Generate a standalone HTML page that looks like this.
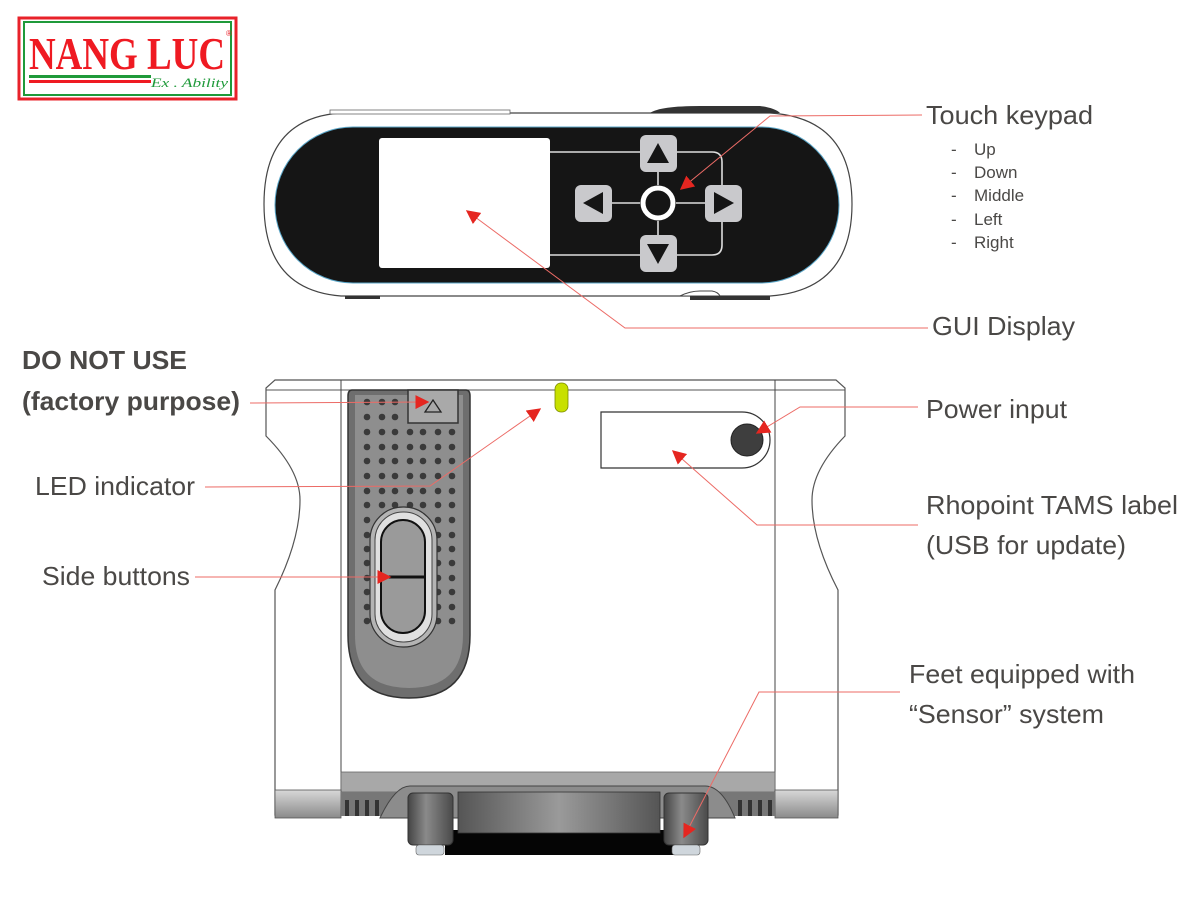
<!DOCTYPE html>
<html><head><meta charset="utf-8"><style>
html,body{margin:0;padding:0;background:#fff;}
svg{display:block;}
text{font-family:"Liberation Sans",sans-serif;fill:#4a4846;}
</style></head><body>
<svg width="1200" height="900" viewBox="0 0 1200 900" xmlns="http://www.w3.org/2000/svg">
<defs>
<linearGradient id="gv" x1="0" y1="0" x2="0" y2="1"><stop offset="0" stop-color="#d8d8d8"/><stop offset="1" stop-color="#8a8a8a"/></linearGradient>
<linearGradient id="gh" x1="0" y1="0" x2="1" y2="0"><stop offset="0" stop-color="#555"/><stop offset="0.5" stop-color="#9a9a9a"/><stop offset="1" stop-color="#555"/></linearGradient>
<linearGradient id="gp" x1="0" y1="0" x2="1" y2="0"><stop offset="0" stop-color="#444"/><stop offset="0.4" stop-color="#8a8a8a"/><stop offset="1" stop-color="#4a4a4a"/></linearGradient>
<marker id="ar" viewBox="0 0 10 10" refX="9" refY="5" markerWidth="14" markerHeight="14" markerUnits="userSpaceOnUse" orient="auto"><path d="M0,0 L10,5 L0,10 z" fill="#e52620"/></marker>
</defs>

<!-- Logo -->
<rect x="19" y="18" width="217" height="81" fill="#fff" stroke="#e8222a" stroke-width="3"/>
<rect x="24" y="22" width="207" height="73" fill="#fff" stroke="#1f9a3a" stroke-width="2"/>
<text x="29" y="69" font-weight="bold" font-size="46" textLength="196" lengthAdjust="spacingAndGlyphs" style="fill:#ef1a22;font-family:'Liberation Serif',serif;font-weight:bold">NANG LUC</text>
<text x="226" y="36" font-size="8" style="fill:#e8222a">®</text>
<rect x="29" y="75" width="122" height="3" fill="#1f9a3a"/>
<rect x="29" y="80" width="122" height="3" fill="#ef1a22"/>
<text x="151" y="87" font-size="13" textLength="77" lengthAdjust="spacingAndGlyphs" style="fill:#1f9a3a;font-family:'Liberation Serif',serif;font-style:italic">Ex . Ability</text>

<!-- Top device -->
<path d="M341,113 L770,113 Q852,118 852,204 Q852,290 770,296 L341,296 Q264,290 264,204 Q264,118 341,113 Z" fill="#fff" stroke="#444" stroke-width="1.2"/>
<rect x="330" y="110" width="180" height="4" fill="#fff" stroke="#666" stroke-width="0.8"/>
<path d="M650,113 Q660,106 700,106 L760,106 Q775,108 780,113 Z" fill="#333"/>
<path d="M680,296 Q690,291 700,291 L712,291 Q718,292 720,296 Z" fill="#fff" stroke="#444"/>
<path d="M345,296 L380,296 L380,299 L345,299Z M690,296 L770,296 L770,300 L690,300Z" fill="#333"/>
<rect x="275" y="127" width="564" height="156" rx="78" fill="#151515" stroke="#5aa6c8" stroke-width="1"/>
<rect x="379" y="138" width="171" height="130" rx="3" fill="#fff"/>
<g stroke="#ddd" stroke-width="1.6" fill="none">
<path d="M550,152 L641,152 M676,152 L712,152 Q722,152 722,162 L722,186 M722,222 L722,245 Q722,255 712,255 L676,255 M641,255 L550,255"/>
<path d="M612,203 L640,203 M676,203 L705,203 M658,172 L658,185 M658,221 L658,236"/>
</g>
<g fill="#c9c9cc">
<rect x="640" y="135" width="37" height="37" rx="6"/>
<rect x="640" y="235" width="37" height="37" rx="6"/>
<rect x="575" y="185" width="37" height="37" rx="6"/>
<rect x="705" y="185" width="37" height="37" rx="6"/>
</g>
<g fill="#151515">
<path d="M658,143 L669,163 L647,163Z"/>
<path d="M658,264 L669,244 L647,244Z"/>
<path d="M583,203 L603,192 L603,214Z"/>
<path d="M734,203 L714,192 L714,214Z"/>
</g>
<circle cx="658" cy="203" r="15" fill="#151515" stroke="#fff" stroke-width="5"/>

<!-- Bottom device body -->
<path d="M275,380 L836,380 L845,388 L845,436 Q812,470 812,500 Q812,540 838,590 L838,815 L275,815 L275,590 Q300,540 300,500 Q300,470 266,436 L266,388 Z" fill="#fff" stroke="#555" stroke-width="1.2"/>
<line x1="266" y1="390" x2="845" y2="390" stroke="#555" stroke-width="1"/>
<line x1="341" y1="380" x2="341" y2="815" stroke="#444" stroke-width="1"/>
<line x1="775" y1="380" x2="775" y2="815" stroke="#444" stroke-width="1"/>
<!-- base -->
<rect x="341" y="772" width="434" height="20" fill="#a8a8a8" stroke="#666" stroke-width="0.8"/>
<rect x="275" y="790" width="66" height="28" fill="url(#gv)" stroke="#555" stroke-width="0.8"/>
<rect x="775" y="790" width="63" height="28" fill="url(#gv)" stroke="#555" stroke-width="0.8"/>
<rect x="341" y="792" width="55" height="24" fill="#777"/>
<rect x="720" y="792" width="55" height="24" fill="#777"/>
<g fill="#333"><rect x="345" y="800" width="4" height="16"/><rect x="355" y="800" width="4" height="16"/><rect x="365" y="800" width="4" height="16"/><rect x="375" y="800" width="4" height="16"/>
<rect x="738" y="800" width="4" height="16"/><rect x="748" y="800" width="4" height="16"/><rect x="758" y="800" width="4" height="16"/><rect x="768" y="800" width="4" height="16"/></g>
<path d="M380,818 Q395,786 410,786 L705,786 Q722,786 735,818 Z" fill="#8c8c8c" stroke="#444"/>
<rect x="445" y="830" width="240" height="25" fill="#050505"/>
<rect x="458" y="792" width="202" height="41" fill="url(#gh)" stroke="#333" stroke-width="0.8"/>
<rect x="408" y="793" width="45" height="52" rx="5" fill="url(#gp)" stroke="#333"/>
<rect x="664" y="793" width="44" height="52" rx="5" fill="url(#gp)" stroke="#333"/>
<rect x="416" y="845" width="28" height="10" rx="3" fill="#cfd6dc" stroke="#666" stroke-width="0.6"/>
<rect x="672" y="845" width="28" height="10" rx="3" fill="#cfd6dc" stroke="#666" stroke-width="0.6"/>

<!-- grip -->
<path d="M352,390 L466,390 Q470,390 470,396 L470,635 Q470,698 409,698 Q348,698 348,635 L348,396 Q348,390 352,390Z" fill="#6e6e6e" stroke="#333" stroke-width="1.5"/>
<path d="M355,395 L463,395 L463,635 Q463,688 409,688 Q355,688 355,635Z" fill="#8e8e8e"/>
<rect x="408" y="390" width="50" height="33" fill="#a9a9a9" stroke="#333" stroke-width="1.5"/>
<path d="M433,400 L441,412 L425,412Z" fill="none" stroke="#222" stroke-width="1.3"/>
<g fill="#3a3a3a">
<circle cx="367" cy="402" r="3.3"/><circle cx="382" cy="402" r="3.3"/><circle cx="395" cy="402" r="3.3"/>
<circle cx="367" cy="417" r="3.3"/><circle cx="382" cy="417" r="3.3"/><circle cx="395" cy="417" r="3.3"/>
<g id="r1"><circle cx="367" cy="432" r="3.3"/><circle cx="382" cy="432" r="3.3"/><circle cx="395" cy="432" r="3.3"/><circle cx="410" cy="432" r="3.3"/><circle cx="423" cy="432" r="3.3"/><circle cx="438" cy="432" r="3.3"/><circle cx="452" cy="432" r="3.3"/></g>
<use href="#r1" y="15"/><use href="#r1" y="29"/><use href="#r1" y="44"/><use href="#r1" y="59"/><use href="#r1" y="73"/>
<circle cx="438" cy="520" r="3.3"/><circle cx="452" cy="520" r="3.3"/>
<g id="c2"><circle cx="438" cy="535" r="3.3"/><circle cx="452" cy="535" r="3.3"/><circle cx="367" cy="535" r="3.3"/></g>
<use href="#c2" y="14"/><use href="#c2" y="28"/><use href="#c2" y="43"/><use href="#c2" y="57"/><use href="#c2" y="72"/><use href="#c2" y="86"/>
<circle cx="367" cy="520" r="3.3"/>
</g>
<rect x="370" y="507" width="67" height="140" rx="33" fill="#b4b4b4" stroke="#333" stroke-width="1.2"/>
<rect x="375" y="512" width="57" height="130" rx="28" fill="#e0e0e0" stroke="#444" stroke-width="1"/>
<rect x="381" y="520" width="44" height="113" rx="22" fill="#9a9a9a" stroke="#111" stroke-width="2"/>
<line x1="382" y1="577" x2="424" y2="577" stroke="#111" stroke-width="3"/>

<!-- LED & label -->
<rect x="555" y="383" width="13" height="29" rx="6" fill="#c8e000" stroke="#7a8a00" stroke-width="0.8"/>
<path d="M601,412 L742,412 A28,28 0 0 1 742,468 L601,468 Z" fill="#fff" stroke="#333" stroke-width="1.2"/>
<circle cx="747" cy="440" r="16" fill="#3e3e3e" stroke="#222"/>

<!-- connectors -->
<g stroke="#ec6b66" stroke-width="1" fill="none">
<polyline points="922,115 770,116 681,189" marker-end="url(#ar)"/>
<polyline points="928,328 625,328 467,211" marker-end="url(#ar)"/>
<polyline points="250,403 428,402" marker-end="url(#ar)"/>
<polyline points="205,487 430,486 540,409" marker-end="url(#ar)"/>
<polyline points="195,577 390,577" marker-end="url(#ar)"/>
<polyline points="918,407 800,407 757,433" marker-end="url(#ar)"/>
<polyline points="918,525 757,525 673,451" marker-end="url(#ar)"/>
<polyline points="900,692 759,692 684,837" marker-end="url(#ar)"/>
</g>

<!-- labels -->
<text x="926" y="124" font-size="26" textLength="167" lengthAdjust="spacingAndGlyphs">Touch keypad</text>
<g font-size="17">
<text x="951" y="155">-</text><text x="974" y="155">Up</text>
<text x="951" y="178">-</text><text x="974" y="178">Down</text>
<text x="951" y="201">-</text><text x="974" y="201">Middle</text>
<text x="951" y="225">-</text><text x="974" y="225">Left</text>
<text x="951" y="248">-</text><text x="974" y="248">Right</text>
</g>
<text x="932" y="335" font-size="26" textLength="143" lengthAdjust="spacingAndGlyphs">GUI Display</text>
<text x="22" y="369" font-size="26" font-weight="bold" textLength="165" lengthAdjust="spacingAndGlyphs">DO NOT USE</text>
<text x="22" y="410" font-size="26" font-weight="bold" textLength="218" lengthAdjust="spacingAndGlyphs">(factory purpose)</text>
<text x="35" y="495" font-size="26" textLength="160" lengthAdjust="spacingAndGlyphs">LED indicator</text>
<text x="42" y="585" font-size="26" textLength="148" lengthAdjust="spacingAndGlyphs">Side buttons</text>
<text x="926" y="418" font-size="26" textLength="141" lengthAdjust="spacingAndGlyphs">Power input</text>
<text x="926" y="514" font-size="26" textLength="252" lengthAdjust="spacingAndGlyphs">Rhopoint TAMS label</text>
<text x="926" y="554" font-size="26" textLength="200" lengthAdjust="spacingAndGlyphs">(USB for update)</text>
<text x="909" y="683" font-size="26" textLength="226" lengthAdjust="spacingAndGlyphs">Feet equipped with</text>
<text x="909" y="723" font-size="26" textLength="195" lengthAdjust="spacingAndGlyphs">“Sensor” system</text>
</svg>
</body></html>
